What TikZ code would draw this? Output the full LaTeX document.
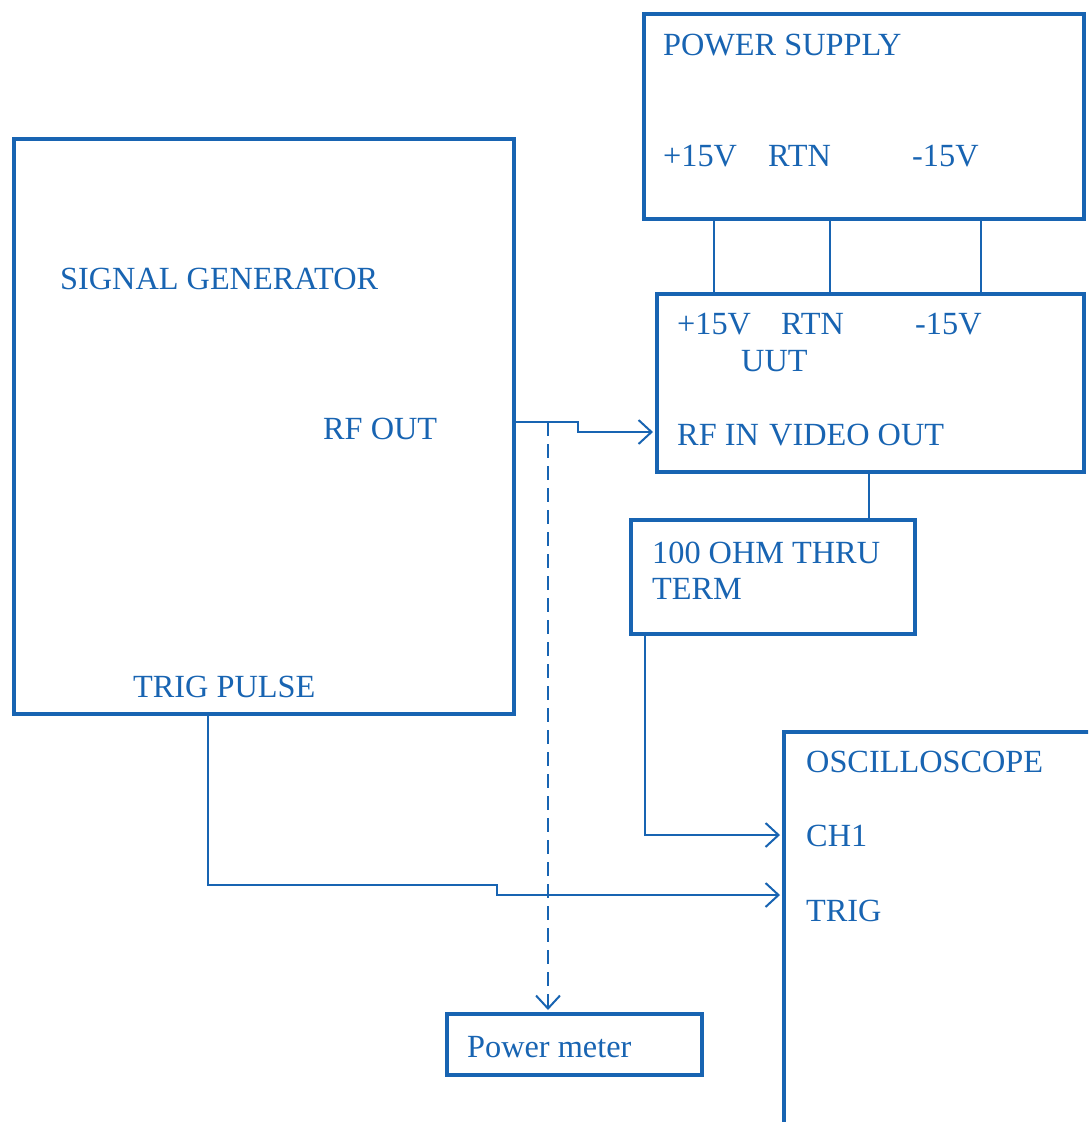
\documentclass[tikz,border=0pt]{standalone}
\usepackage{fontspec}
\setmainfont{Liberation Serif}
\usetikzlibrary{arrows.meta}
\definecolor{ink}{RGB}{24,100,178}

\begin{document}
\begin{tikzpicture}[
      x=1pt, y=-1pt,
      box/.style={rectangle, draw=ink, line width=4pt, inner sep=0pt,
                  anchor=north west},
      lbl/.style={anchor=base west, inner sep=0pt, text=ink,
                  font=\fontsize{32.3}{36}\selectfont},
      wire/.style={draw=ink, line width=2pt},
      arr/.style={wire, shorten >=2pt,
                  -{Straight Barb[length=13pt, width=24pt, line width=2pt]}}
    ]
    \clip (0,0) rectangle (1088,1122);
    \fill[white] (0,0) rectangle (1088,1122);
    % boxes
    \node[box, minimum width=440pt, minimum height=205pt] (ps) at (642,12) {};
    \node[box, minimum width=500pt, minimum height=575pt] (sg) at (12,137) {};
    \node[box, minimum width=427pt, minimum height=178pt] (uut) at (655,292) {};
    \node[box, minimum width=284pt, minimum height=114pt] (term) at (629,518) {};
    \node[box, minimum width=400pt, minimum height=500pt] (osc) at (782,730) {};
    \node[box, minimum width=255pt, minimum height=61pt] (pm) at (445,1012) {};
    % labels
    \node[lbl] (psname) at (663,55) {POWER SUPPLY};
    \node[lbl] (psplus) at (663,166) {+15V};
    \node[lbl] (psrtn) at (768,166) {RTN};
    \node[lbl] (psminus) at (912,166) {-15V};
    \node[lbl] (sgname) at (60,289) {SIGNAL GENERATOR};
    \node[lbl] (rfout) at (323,439) {RF OUT};
    \node[lbl] (trigpulse) at (133,697) {TRIG PULSE};
    \node[lbl] (uutplus) at (677,334) {+15V};
    \node[lbl] (uutrtn) at (781,334) {RTN};
    \node[lbl] (uutminus) at (915,334) {-15V};
    \node[lbl] (uutname) at (741,371) {UUT};
    \node[lbl] (rfin) at (677,445) {RF IN};
    \node[lbl] (videoout) at (769,445) {VIDEO OUT};
    \node[lbl] (termname) at (652,563) {100 OHM THRU};
    \node[lbl] (termname2) at (652,599) {TERM};
    \node[lbl] (oscname) at (806,772) {OSCILLOSCOPE};
    \node[lbl] (chone) at (806,846) {CH1};
    \node[lbl] (trig) at (806,921) {TRIG};
    \node[lbl] (pmname) at (467,1057) {Power meter};
    % connector helpers
    \coordinate (vplus) at (714,0);
    \coordinate (vrtn) at (830,0);
    \coordinate (vminus) at (981,0);
    \coordinate (vvideo) at (869,0);
    \coordinate (vterm) at (645,0);
    \coordinate (vtrig) at (208,0);
    \coordinate (tap) at (548,422);
    \coordinate (rfstep) at (578,422);
    \coordinate (rfy) at (0,432);
    \coordinate (trigstep) at (497,885);
    \coordinate (chy) at (0,835);
    \coordinate (trigy) at (0,895);
    % supply lines
    \draw[wire] (ps.south -| vplus) -- (uut.north -| vplus);
    \draw[wire] (ps.south -| vrtn) -- (uut.north -| vrtn);
    \draw[wire] (ps.south -| vminus) -- (uut.north -| vminus);
    % rf path
    \draw[arr] (sg.east |- tap) -- (rfstep) |- (uut.west |- rfy);
    \draw[arr, dash pattern=on 14pt off 8pt] (tap) -- (tap |- pm.north);
    % video and trigger
    \draw[wire] (uut.south -| vvideo) -- (term.north -| vvideo);
    \draw[arr] (term.south -| vterm) |- (osc.west |- chy);
    \draw[arr] (sg.south -| vtrig) |- (trigstep) |- (osc.west |- trigy);
  \end{tikzpicture}
\end{document}
